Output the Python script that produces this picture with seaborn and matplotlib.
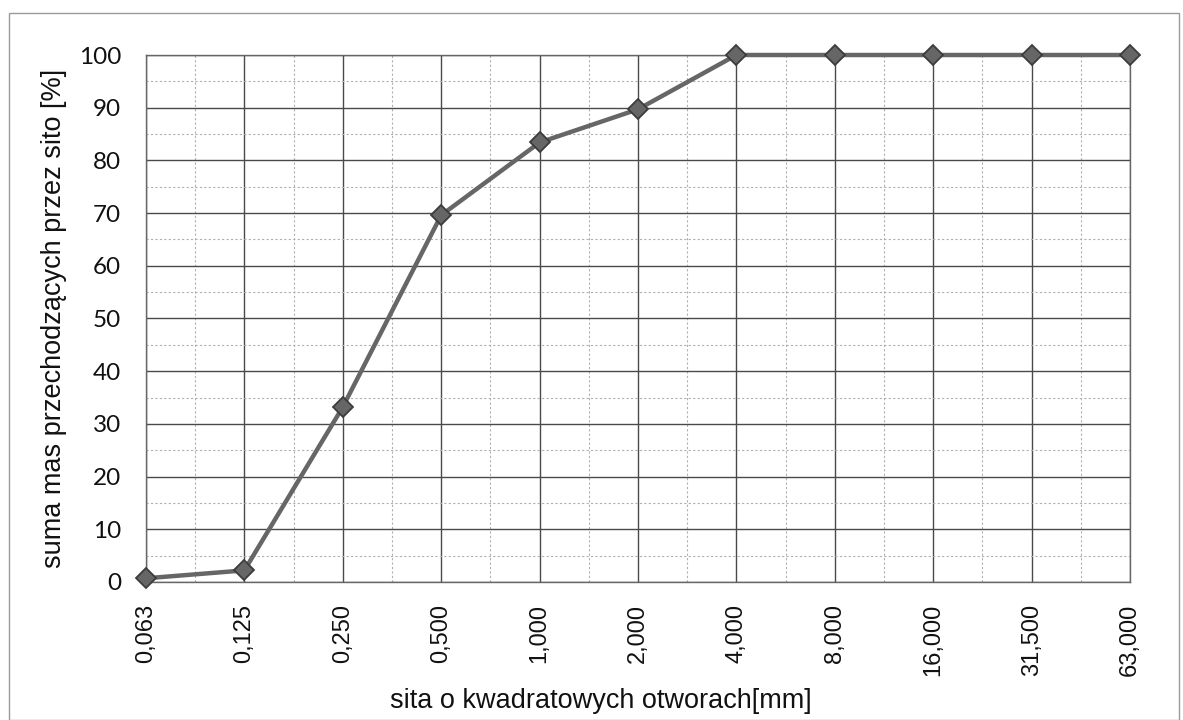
import matplotlib
matplotlib.use("Agg")
import matplotlib.pyplot as plt
import seaborn as sns
import pandas as pd
from matplotlib.ticker import MultipleLocator
from matplotlib.patches import Rectangle

sieves = ["0,063", "0,125", "0,250", "0,500", "1,000", "2,000",
          "4,000", "8,000", "16,000", "31,500", "63,000"]
passing = [0.7, 2.2, 33.2, 69.6, 83.4, 89.7, 100, 100, 100, 100, 100]

sns.set_theme(style="white")
plt.rcParams['font.family'] = ['Liberation Sans', 'DejaVu Sans']

df = pd.DataFrame({"sito": pd.Categorical(sieves, categories=sieves), "suma": passing})

fig = plt.figure(figsize=(11.83, 7.2), dpi=100)
ax = fig.add_axes([0.1234, 0.1917, 0.8318, 0.7319])

sns.pointplot(data=df, x="sito", y="suma", ax=ax, color="#666666",
              markers="D", linestyles="-", linewidth=3.2,
              markersize=10, markeredgecolor="#3c3c3c", markeredgewidth=1.3)
for ln in ax.lines:
    ln.set_clip_on(False)
    ln.set_zorder(5)

ax.set_xlim(0, len(sieves) - 1)
ax.set_ylim(0, 100)
ax.yaxis.set_major_locator(MultipleLocator(10))
ax.yaxis.set_minor_locator(MultipleLocator(5))
ax.xaxis.set_minor_locator(MultipleLocator(0.5))

ax.grid(True, which="major", color="#4a4a4a", linewidth=1.0, linestyle="-")
ax.grid(True, which="minor", color="#b0b0b0", linewidth=0.8, linestyle=(0, (2, 2)))
ax.set_axisbelow(True)

for s in ax.spines.values():
    s.set_color("#666666")
    s.set_linewidth(1.0)

ax.tick_params(axis="both", which="both", length=0, colors="#111111")
ax.tick_params(axis="y", pad=18, labelsize=17.5)
ax.tick_params(axis="x", pad=16, labelsize=17, labelrotation=90)
for t in ax.get_yticklabels():
    t.set_family(['Lato', 'DejaVu Sans'])

ax.set_xlabel("sita o kwadratowych otworach[mm]", fontsize=19.5, color="#111111", labelpad=8)
ax.xaxis.label.set_x(0.462)
ax.set_ylabel("suma mas przechodzących przez sito [%]", fontsize=19.5, color="#111111", labelpad=8)

fig.patches.append(Rectangle((9 / 1183, 0), 1170 / 1183, 707 / 720, transform=fig.transFigure,
                             fill=False, edgecolor="#9a9a9a", linewidth=1.0))

fig.savefig("out.png", dpi=100)
